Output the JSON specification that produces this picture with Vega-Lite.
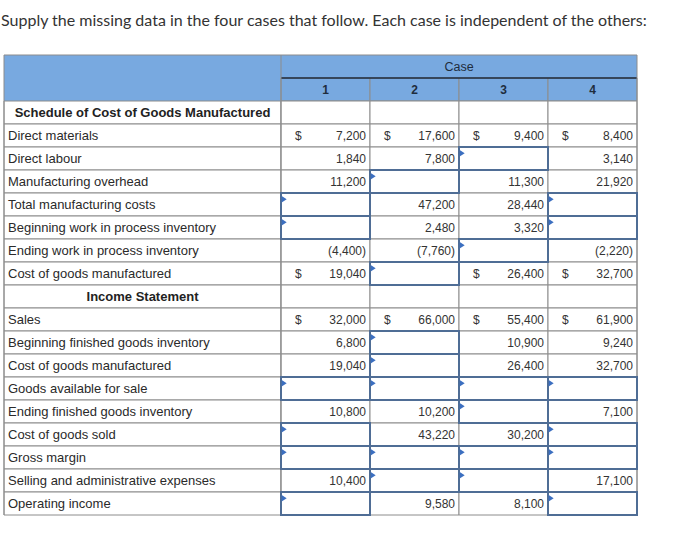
{
  "$schema": "https://vega.github.io/schema/vega-lite/v6.json",
  "autosize": {"type": "pad"},
  "padding": {"left": 1, "top": 12, "right": 0, "bottom": 0},
  "background": "white",
  "spacing": 0,
  "bounds": "flush",
  "title": {
    "text": "Supply the missing data in the four cases that follow. Each case is independent of the others:",
    "anchor": "start",
    "frame": "group",
    "offset": 13,
    "baseline": "alphabetic",
    "dx": -3,
    "font": "Lato",
    "fontSize": 16,
    "fontWeight": "normal",
    "color": "#333333"
  },
  "config": {
    "view": {"stroke": null},
    "scale": {"bandPaddingInner": 0, "bandPaddingOuter": 0, "rectBandPaddingInner": 0}
  },
  "datasets": {
    "rows": [
      {"row": "h1", "col": "label", "hdr": true},
      {"row": "h2", "col": "label", "hdr": true},
      {"row": "r01", "col": "label", "label": "Schedule of Cost of Goods Manufactured", "sec": true},
      {"row": "r02", "col": "label", "label": "Direct materials"},
      {"row": "r03", "col": "label", "label": "Direct labour"},
      {"row": "r04", "col": "label", "label": "Manufacturing overhead"},
      {"row": "r05", "col": "label", "label": "Total manufacturing costs"},
      {"row": "r06", "col": "label", "label": "Beginning work in process inventory"},
      {"row": "r07", "col": "label", "label": "Ending work in process inventory"},
      {"row": "r08", "col": "label", "label": "Cost of goods manufactured"},
      {"row": "r09", "col": "label", "label": "Income Statement", "sec": true},
      {"row": "r10", "col": "label", "label": "Sales"},
      {"row": "r11", "col": "label", "label": "Beginning finished goods inventory"},
      {"row": "r12", "col": "label", "label": "Cost of goods manufactured"},
      {"row": "r13", "col": "label", "label": "Goods available for sale"},
      {"row": "r14", "col": "label", "label": "Ending finished goods inventory"},
      {"row": "r15", "col": "label", "label": "Cost of goods sold"},
      {"row": "r16", "col": "label", "label": "Gross margin"},
      {"row": "r17", "col": "label", "label": "Selling and administrative expenses"},
      {"row": "r18", "col": "label", "label": "Operating income"}
    ],
    "cells": [
      {"row": "h1", "case": "1"}, {"row": "h1", "case": "2"}, {"row": "h1", "case": "3"}, {"row": "h1", "case": "4"},
      {"row": "h2", "case": "1"}, {"row": "h2", "case": "2"}, {"row": "h2", "case": "3"}, {"row": "h2", "case": "4"},
      {"row": "r01", "case": "1"}, {"row": "r01", "case": "2"}, {"row": "r01", "case": "3"}, {"row": "r01", "case": "4"},
      {"row": "r02", "case": "1", "v": 7200, "d": true}, {"row": "r02", "case": "2", "v": 17600, "d": true}, {"row": "r02", "case": "3", "v": 9400, "d": true}, {"row": "r02", "case": "4", "v": 8400, "d": true},
      {"row": "r03", "case": "1", "v": 1840}, {"row": "r03", "case": "2", "v": 7800}, {"row": "r03", "case": "3", "m": true}, {"row": "r03", "case": "4", "v": 3140},
      {"row": "r04", "case": "1", "v": 11200}, {"row": "r04", "case": "2", "m": true}, {"row": "r04", "case": "3", "v": 11300}, {"row": "r04", "case": "4", "v": 21920},
      {"row": "r05", "case": "1", "m": true}, {"row": "r05", "case": "2", "v": 47200}, {"row": "r05", "case": "3", "v": 28440}, {"row": "r05", "case": "4", "m": true},
      {"row": "r06", "case": "1", "m": true}, {"row": "r06", "case": "2", "v": 2480}, {"row": "r06", "case": "3", "v": 3320}, {"row": "r06", "case": "4", "m": true},
      {"row": "r07", "case": "1", "v": -4400}, {"row": "r07", "case": "2", "v": -7760}, {"row": "r07", "case": "3", "m": true}, {"row": "r07", "case": "4", "v": -2220},
      {"row": "r08", "case": "1", "v": 19040, "d": true}, {"row": "r08", "case": "2", "m": true}, {"row": "r08", "case": "3", "v": 26400, "d": true}, {"row": "r08", "case": "4", "v": 32700, "d": true},
      {"row": "r09", "case": "1"}, {"row": "r09", "case": "2"}, {"row": "r09", "case": "3"}, {"row": "r09", "case": "4"},
      {"row": "r10", "case": "1", "v": 32000, "d": true}, {"row": "r10", "case": "2", "v": 66000, "d": true}, {"row": "r10", "case": "3", "v": 55400, "d": true}, {"row": "r10", "case": "4", "v": 61900, "d": true},
      {"row": "r11", "case": "1", "v": 6800}, {"row": "r11", "case": "2", "m": true}, {"row": "r11", "case": "3", "v": 10900}, {"row": "r11", "case": "4", "v": 9240},
      {"row": "r12", "case": "1", "v": 19040}, {"row": "r12", "case": "2", "m": true}, {"row": "r12", "case": "3", "v": 26400}, {"row": "r12", "case": "4", "v": 32700},
      {"row": "r13", "case": "1", "m": true}, {"row": "r13", "case": "2", "m": true}, {"row": "r13", "case": "3", "m": true}, {"row": "r13", "case": "4", "m": true},
      {"row": "r14", "case": "1", "v": 10800}, {"row": "r14", "case": "2", "v": 10200}, {"row": "r14", "case": "3", "m": true}, {"row": "r14", "case": "4", "v": 7100},
      {"row": "r15", "case": "1", "m": true}, {"row": "r15", "case": "2", "v": 43220}, {"row": "r15", "case": "3", "v": 30200}, {"row": "r15", "case": "4", "m": true},
      {"row": "r16", "case": "1", "m": true}, {"row": "r16", "case": "2", "m": true}, {"row": "r16", "case": "3", "m": true}, {"row": "r16", "case": "4", "m": true},
      {"row": "r17", "case": "1", "v": 10400}, {"row": "r17", "case": "2", "m": true}, {"row": "r17", "case": "3", "m": true}, {"row": "r17", "case": "4", "v": 17100},
      {"row": "r18", "case": "1", "m": true}, {"row": "r18", "case": "2", "v": 9580}, {"row": "r18", "case": "3", "v": 8100}, {"row": "r18", "case": "4", "m": true}
    ]
  },
  "hconcat": [
    {
      "width": 277,
      "height": 460,
      "data": {"name": "rows"},
      "layer": [
        {
          "transform": [{"filter": "datum.hdr === true"}],
          "mark": {"type": "rect", "fill": "#78a9e0", "strokeWidth": 0},
          "encoding": {
            "x": {"field": "col", "type": "nominal", "axis": null},
            "y": {"field": "row", "type": "nominal", "axis": null, "scale": {"domain": ["h1","h2","r01","r02","r03","r04","r05","r06","r07","r08","r09","r10","r11","r12","r13","r14","r15","r16","r17","r18"]}}
          }
        },
        {
          "transform": [{"filter": "datum.hdr !== true"}],
          "mark": {"type": "rect", "fill": "white", "stroke": "#8c8c8c", "strokeWidth": 1},
          "encoding": {
            "x": {"field": "col", "type": "nominal", "axis": null},
            "y": {"field": "row", "type": "nominal", "axis": null}
          }
        },
        {
          "transform": [{"filter": "datum.sec === true"}],
          "mark": {"type": "text", "align": "center", "baseline": "middle", "font": "Liberation Sans", "fontSize": 13, "fontWeight": "bold", "color": "#222222"},
          "encoding": {
            "x": {"field": "col", "type": "nominal", "axis": null},
            "y": {"field": "row", "type": "nominal", "axis": null},
            "text": {"field": "label", "type": "nominal"}
          }
        },
        {
          "transform": [{"filter": "datum.label && datum.sec !== true"}],
          "mark": {"type": "text", "align": "left", "baseline": "middle", "dx": 4, "font": "Liberation Sans", "fontSize": 13, "color": "#2a2a2a"},
          "encoding": {
            "x": {"field": "col", "type": "nominal", "axis": null, "bandPosition": 0},
            "y": {"field": "row", "type": "nominal", "axis": null},
            "text": {"field": "label", "type": "nominal"}
          }
        },
        {
          "transform": [{"filter": "datum.row === 'h1'"}],
          "mark": {"type": "rule", "color": "#8c8c8c", "strokeWidth": 1},
          "encoding": {
            "x": {"field": "col", "type": "nominal", "axis": null, "bandPosition": 0}
          }
        },
        {
          "transform": [{"filter": "datum.row === 'h1'"}],
          "mark": {"type": "rule", "color": "#8c8c8c", "strokeWidth": 1},
          "encoding": {
            "y": {"field": "row", "type": "nominal", "axis": null, "bandPosition": 0}
          }
        }
      ]
    },
    {
      "width": 356,
      "height": 460,
      "data": {"name": "cells"},
      "layer": [
        {
          "transform": [{"filter": "datum.row === 'h1'"}],
          "mark": {"type": "rect", "fill": "#78a9e0", "strokeWidth": 0},
          "encoding": {
            "x": {"field": "case", "type": "nominal", "axis": null, "scale": {"domain": ["1","2","3","4"]}},
            "y": {"field": "row", "type": "nominal", "axis": null, "scale": {"domain": ["h1","h2","r01","r02","r03","r04","r05","r06","r07","r08","r09","r10","r11","r12","r13","r14","r15","r16","r17","r18"]}}
          }
        },
        {
          "transform": [{"filter": "datum.row === 'h2'"}],
          "mark": {"type": "rect", "fill": "#78a9e0", "stroke": "#8c8c8c", "strokeWidth": 1},
          "encoding": {
            "x": {"field": "case", "type": "nominal", "axis": null},
            "y": {"field": "row", "type": "nominal", "axis": null}
          }
        },
        {
          "transform": [{"filter": "datum.row !== 'h1' && datum.row !== 'h2'"}],
          "mark": {"type": "rect", "fill": "white", "stroke": "#8c8c8c", "strokeWidth": 1},
          "encoding": {
            "x": {"field": "case", "type": "nominal", "axis": null},
            "y": {"field": "row", "type": "nominal", "axis": null}
          }
        },
        {
          "transform": [{"filter": "datum.row === 'h2' && datum.case === '1'"}],
          "mark": {"type": "rule", "color": "#1c2a3c", "strokeWidth": 1.5},
          "encoding": {
            "y": {"field": "row", "type": "nominal", "axis": null, "bandPosition": 0}
          }
        },
        {
          "transform": [{"filter": "datum.row === 'h1' && datum.case === '1'"}],
          "mark": {"type": "rule", "color": "#8c8c8c", "strokeWidth": 1},
          "encoding": {
            "y": {"field": "row", "type": "nominal", "axis": null, "bandPosition": 0}
          }
        },
        {
          "transform": [{"filter": "datum.row === 'h1' && datum.case === '1'"}],
          "mark": {"type": "rule", "color": "#8c8c8c", "strokeWidth": 1},
          "encoding": {
            "x": {"field": "case", "type": "nominal", "axis": null, "bandPosition": 0}
          }
        },
        {
          "transform": [{"filter": "datum.row === 'h1' && datum.case === '4'"}],
          "mark": {"type": "rule", "color": "#8c8c8c", "strokeWidth": 1},
          "encoding": {
            "x": {"field": "case", "type": "nominal", "axis": null, "bandPosition": 1}
          }
        },
        {
          "transform": [{"filter": "datum.m === true"}],
          "mark": {"type": "rect", "fill": "white", "stroke": "#4f6d95", "strokeWidth": 2},
          "encoding": {
            "x": {"field": "case", "type": "nominal", "axis": null},
            "y": {"field": "row", "type": "nominal", "axis": null}
          }
        },
        {
          "transform": [{"filter": "datum.m === true"}],
          "mark": {"type": "point", "shape": "M-0.77,-1L0.77,0L-0.77,1Z", "filled": true, "color": "#3c6fc0", "opacity": 1, "size": 42, "strokeWidth": 0, "xOffset": 3.2, "yOffset": 6.3},
          "encoding": {
            "x": {"field": "case", "type": "nominal", "axis": null, "bandPosition": 0},
            "y": {"field": "row", "type": "nominal", "axis": null, "bandPosition": 0}
          }
        },
        {
          "transform": [{"filter": "datum.d === true"}],
          "mark": {"type": "text", "text": "$", "align": "left", "baseline": "middle", "dx": 14, "font": "Liberation Sans", "fontSize": 12, "color": "#333333"},
          "encoding": {
            "x": {"field": "case", "type": "nominal", "axis": null, "bandPosition": 0},
            "y": {"field": "row", "type": "nominal", "axis": null}
          }
        },
        {
          "transform": [{"filter": "isValid(datum.v)"}],
          "mark": {"type": "text", "align": "right", "baseline": "middle", "dx": -4, "font": "Liberation Sans", "fontSize": 12, "color": "#333333"},
          "encoding": {
            "x": {"field": "case", "type": "nominal", "axis": null, "bandPosition": 1},
            "y": {"field": "row", "type": "nominal", "axis": null},
            "text": {"field": "v", "type": "quantitative", "format": "(,.0f"}
          }
        },
        {
          "transform": [{"filter": "datum.row === 'h1' && datum.case === '2'"}],
          "mark": {"type": "text", "text": "Case", "align": "center", "baseline": "middle", "font": "Liberation Sans", "fontSize": 12.5, "color": "#1f2d3d"},
          "encoding": {
            "x": {"field": "case", "type": "nominal", "axis": null, "bandPosition": 1},
            "y": {"field": "row", "type": "nominal", "axis": null}
          }
        },
        {
          "transform": [{"filter": "datum.row === 'h2'"}],
          "mark": {"type": "text", "align": "center", "baseline": "middle", "font": "Liberation Sans", "fontSize": 12, "fontWeight": "bold", "color": "#1f2d3d"},
          "encoding": {
            "x": {"field": "case", "type": "nominal", "axis": null},
            "y": {"field": "row", "type": "nominal", "axis": null},
            "text": {"field": "case", "type": "nominal"}
          }
        }
      ]
    }
  ]
}
